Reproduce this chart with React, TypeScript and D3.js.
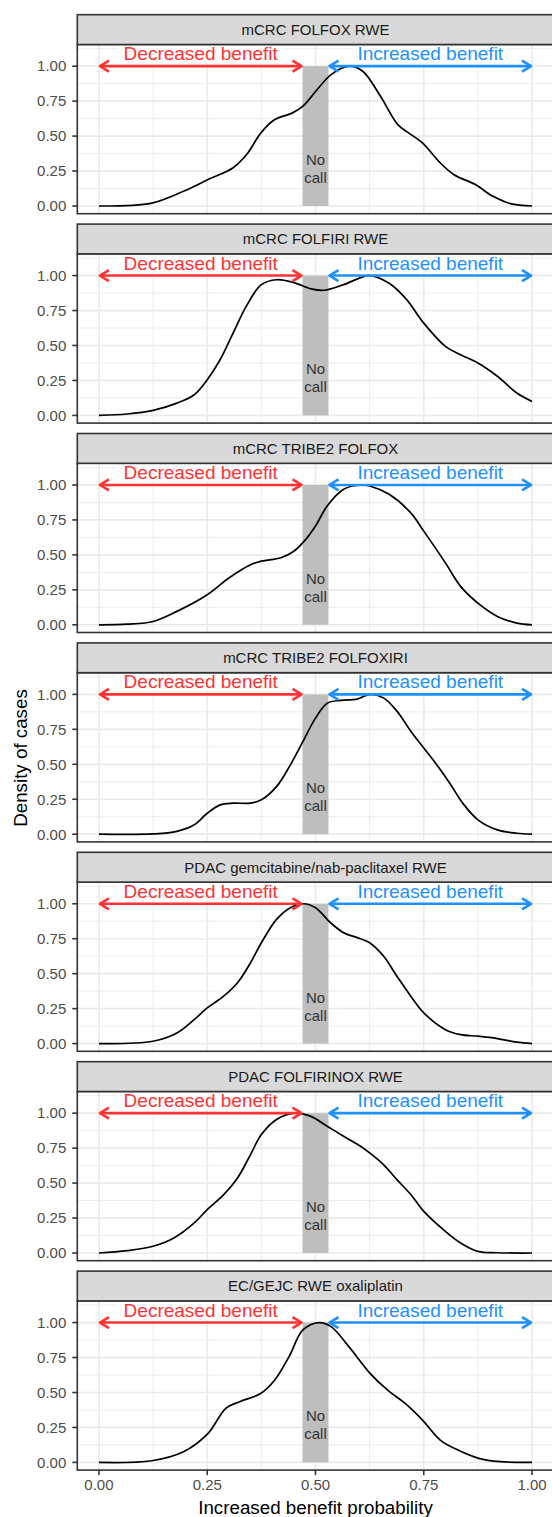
import React from "react";
import * as d3 from "d3";

const facetTitles = [
  "mCRC FOLFOX RWE",
  "mCRC FOLFIRI RWE",
  "mCRC TRIBE2 FOLFOX",
  "mCRC TRIBE2 FOLFOXIRI",
  "PDAC gemcitabine/nab-paclitaxel RWE",
  "PDAC FOLFIRINOX RWE",
  "EC/GEJC RWE oxaliplatin",
];

const folfoxRweX = [0, 0.122, 0.195, 0.252, 0.309, 0.341, 0.374, 0.406, 0.447, 0.471, 0.504, 0.536, 0.577, 0.609, 0.65, 0.69, 0.715, 0.747, 0.788, 0.82, 0.869, 0.91, 0.95, 1];
const folfoxRweY = [0, 0.021, 0.105, 0.189, 0.272, 0.368, 0.523, 0.618, 0.666, 0.714, 0.833, 0.94, 1.0, 0.964, 0.785, 0.582, 0.523, 0.451, 0.308, 0.224, 0.153, 0.069, 0.017, 0];

const folfiriRweX = [0, 0.065, 0.125, 0.18, 0.22, 0.25, 0.28, 0.31, 0.34, 0.375, 0.41, 0.45, 0.49, 0.52, 0.565, 0.625, 0.67, 0.71, 0.75, 0.8, 0.835, 0.875, 0.92, 0.965, 1];
const folfiriRweY = [0, 0.01, 0.036, 0.088, 0.148, 0.255, 0.4, 0.59, 0.78, 0.935, 0.97, 0.95, 0.905, 0.895, 0.935, 1.0, 0.945, 0.83, 0.66, 0.494, 0.434, 0.375, 0.28, 0.16, 0.1];

const tribeFolfoxX = [0, 0.065, 0.125, 0.18, 0.25, 0.3, 0.35, 0.375, 0.42, 0.45, 0.48, 0.5, 0.527, 0.565, 0.605, 0.625, 0.67, 0.72, 0.75, 0.8, 0.835, 0.875, 0.92, 0.965, 1];
const tribeFolfoxY = [0, 0.005, 0.024, 0.096, 0.215, 0.335, 0.43, 0.455, 0.48, 0.526, 0.62, 0.706, 0.85, 0.97, 1.0, 0.993, 0.933, 0.8, 0.67, 0.443, 0.275, 0.155, 0.06, 0.012, 0];

const tribeFolfoxiriX = [0, 0.125, 0.18, 0.22, 0.25, 0.28, 0.31, 0.35, 0.375, 0.41, 0.44, 0.473, 0.5, 0.527, 0.558, 0.596, 0.625, 0.657, 0.688, 0.72, 0.75, 0.78, 0.81, 0.84, 0.875, 0.92, 0.965, 1];
const tribeFolfoxiriY = [0, 0.002, 0.02, 0.067, 0.15, 0.21, 0.222, 0.222, 0.246, 0.34, 0.485, 0.675, 0.83, 0.937, 0.957, 0.966, 1.0, 0.975, 0.88, 0.737, 0.617, 0.497, 0.365, 0.222, 0.103, 0.031, 0.007, 0];

const pdacGemNabX = [0, 0.125, 0.18, 0.22, 0.25, 0.288, 0.32, 0.35, 0.375, 0.41, 0.442, 0.473, 0.5, 0.535, 0.565, 0.604, 0.625, 0.657, 0.688, 0.72, 0.75, 0.8, 0.835, 0.875, 0.92, 0.965, 1];
const pdacGemNabY = [0, 0.017, 0.076, 0.172, 0.255, 0.339, 0.435, 0.578, 0.721, 0.888, 0.972, 1.0, 0.971, 0.864, 0.793, 0.75, 0.721, 0.626, 0.482, 0.339, 0.22, 0.1, 0.064, 0.053, 0.036, 0.01, 0];

const pdacFolfirinoxX = [0, 0.065, 0.125, 0.173, 0.22, 0.25, 0.288, 0.32, 0.35, 0.375, 0.41, 0.45, 0.488, 0.527, 0.565, 0.604, 0.625, 0.657, 0.688, 0.72, 0.75, 0.8, 0.835, 0.875, 0.92, 1];
const pdacFolfirinoxY = [0, 0.017, 0.048, 0.107, 0.215, 0.31, 0.418, 0.537, 0.704, 0.847, 0.955, 1.0, 0.979, 0.907, 0.835, 0.764, 0.716, 0.632, 0.525, 0.418, 0.298, 0.155, 0.072, 0.012, 0.002, 0];

const ecGejcX = [0, 0.122, 0.195, 0.252, 0.293, 0.325, 0.374, 0.406, 0.439, 0.471, 0.508, 0.536, 0.577, 0.626, 0.666, 0.707, 0.747, 0.788, 0.829, 0.877, 0.926, 1];
const ecGejcY = [0, 0.012, 0.076, 0.208, 0.387, 0.434, 0.494, 0.589, 0.757, 0.947, 1.0, 0.971, 0.828, 0.637, 0.518, 0.422, 0.303, 0.16, 0.088, 0.029, 0.005, 0];

const seriesX = [folfoxRweX, folfiriRweX, tribeFolfoxX, tribeFolfoxiriX, pdacGemNabX, pdacFolfirinoxX, ecGejcX];
const seriesY = [folfoxRweY, folfiriRweY, tribeFolfoxY, tribeFolfoxiriY, pdacGemNabY, pdacFolfirinoxY, ecGejcY];

const xTicks = [0, 0.25, 0.5, 0.75, 1];
const xTickLabels = ["0.00", "0.25", "0.50", "0.75", "1.00"];
const yTicks = [0, 0.25, 0.5, 0.75, 1];
const yTickLabels = ["0.00", "0.25", "0.50", "0.75", "1.00"];
const xMinor = [0.125, 0.375, 0.625, 0.875];
const yMinor = [0.125, 0.375, 0.625, 0.875, 1.125];

const noCallRange = [0.47, 0.53];
const decreasedRange = [0, 0.47];
const increasedRange = [0.53, 1];
const arrowY = 1;
const noCallY = 0.25;

const W = 552;
const H = 1517;
const FONT = "'Liberation Sans', Arial, Helvetica, sans-serif";
const RED = "#FF3333";
const BLUE = "#1E90FF";

const panelLeft = 77.3;
const panelRight = 553.7;
const firstStripTop = 14.7;
const pitch = 209.4;
const stripH = 29.8;
const facetH = 199;

const x = d3.scaleLinear().domain([-0.05, 1.05]).range([panelLeft, panelRight]);

function Arrow({ x0, x1, y, color }: { x0: number; x1: number; y: number; color: string }) {
  const L = 10;
  const hw = 5.5;
  return (
    <g stroke={color} strokeWidth={2.6} fill="none" strokeLinecap="butt" strokeLinejoin="round">
      <line x1={x0 + 1} y1={y} x2={x1 - 1} y2={y} />
      <path d={`M${x0 + L},${y - hw}L${x0 + 1},${y}L${x0 + L},${y + hw}`} />
      <path d={`M${x1 - L},${y - hw}L${x1 - 1},${y}L${x1 - L},${y + hw}`} />
    </g>
  );
}

function Facet({ i }: { i: number }) {
  const stripTop = firstStripTop + i * pitch;
  const top = stripTop + stripH;
  const bottom = stripTop + facetH;
  const y = d3.scaleLinear().domain([-0.055, 1.155]).range([bottom, top]);
  const pts: [number, number][] = seriesX[i].map((v, k) => [v, seriesY[i][k]]);
  const line = d3
    .line<[number, number]>()
    .x((d) => x(d[0]))
    .y((d) => y(d[1]))
    .curve(d3.curveCatmullRom.alpha(0.5));
  const decMid = (decreasedRange[0] + decreasedRange[1]) / 2;
  const incMid = (increasedRange[0] + increasedRange[1]) / 2;
  const decW = 154;
  const incW = 146;
  const midX = (panelLeft + panelRight) / 2;
  return (
    <g>
      <rect x={panelLeft} y={top} width={panelRight - panelLeft} height={bottom - top} fill="#fff" />
      {xMinor.map((v) => (
        <line key={"xm" + v} x1={x(v)} x2={x(v)} y1={top} y2={bottom} stroke="#EBEBEB" strokeWidth={0.9} />
      ))}
      {yMinor.map((v) => (
        <line key={"ym" + v} x1={panelLeft} x2={panelRight} y1={y(v)} y2={y(v)} stroke="#EBEBEB" strokeWidth={0.9} />
      ))}
      {xTicks.map((v) => (
        <line key={"xM" + v} x1={x(v)} x2={x(v)} y1={top} y2={bottom} stroke="#EBEBEB" strokeWidth={1.7} />
      ))}
      {yTicks.map((v) => (
        <line key={"yM" + v} x1={panelLeft} x2={panelRight} y1={y(v)} y2={y(v)} stroke="#EBEBEB" strokeWidth={1.7} />
      ))}
      <rect x={x(decMid) - decW / 2 - 6} y={top + 1} width={decW + 12} height={y(arrowY) - 3 - top - 1} fill="#fff" />
      <rect x={x(incMid) - incW / 2 - 6} y={top + 1} width={incW + 12} height={y(arrowY) - 3 - top - 1} fill="#fff" />
      <rect
        x={x(noCallRange[0])}
        y={y(1)}
        width={x(noCallRange[1]) - x(noCallRange[0])}
        height={y(0) - y(1)}
        fill="#BEBEBE"
      />
      <text x={x(0.5)} y={y(noCallY) - 6} textAnchor="middle" fontFamily={FONT} fontSize={15} fill="#333333">
        No
      </text>
      <text x={x(0.5)} y={y(noCallY) + 12} textAnchor="middle" fontFamily={FONT} fontSize={15} fill="#333333">
        call
      </text>
      <path d={line(pts) || ""} fill="none" stroke="#000" strokeWidth={1.7} strokeLinejoin="round" />
      <Arrow x0={x(decreasedRange[0])} x1={x(decreasedRange[1])} y={y(arrowY)} color={RED} />
      <Arrow x0={x(increasedRange[0])} x1={x(increasedRange[1])} y={y(arrowY)} color={BLUE} />
      <text x={x(decMid)} y={y(arrowY) - 6} textAnchor="middle" fontFamily={FONT} fontSize={19} fill={RED}>
        Decreased benefit
      </text>
      <text x={x(incMid)} y={y(arrowY) - 6} textAnchor="middle" fontFamily={FONT} fontSize={19} fill={BLUE}>
        Increased benefit
      </text>
      <rect x={panelLeft} y={top} width={panelRight - panelLeft} height={bottom - top} fill="none" stroke="#333333" strokeWidth={1.6} />
      <rect x={panelLeft} y={stripTop} width={panelRight - panelLeft} height={stripH} fill="#D9D9D9" stroke="#333333" strokeWidth={1.6} />
      <text x={midX} y={stripTop + stripH / 2 + 5.4} textAnchor="middle" fontFamily={FONT} fontSize={15} fill="#1A1A1A">
        {facetTitles[i]}
      </text>
      {yTicks.map((v, k) => (
        <g key={"yt" + v}>
          <line x1={panelLeft - 5} x2={panelLeft} y1={y(v)} y2={y(v)} stroke="#333333" strokeWidth={1.6} />
          <text x={panelLeft - 11} y={y(v) + 5.3} textAnchor="end" fontFamily={FONT} fontSize={15} fill="#4D4D4D">
            {yTickLabels[k]}
          </text>
        </g>
      ))}
    </g>
  );
}

export default function App() {
  const lastBottom = firstStripTop + 6 * pitch + facetH;
  return (
    <svg
      width={W}
      height={H}
      viewBox={`0 0 ${W} ${H}`}
      style={{ position: "absolute", left: 0, top: 0, background: "#fff" }}
    >
      <rect x={0} y={0} width={W} height={H} fill="#fff" />
      {facetTitles.map((_, i) => (
        <Facet key={i} i={i} />
      ))}
      {xTicks.map((v, k) => (
        <g key={"xt" + v}>
          <line x1={x(v)} x2={x(v)} y1={lastBottom} y2={lastBottom + 5} stroke="#333333" strokeWidth={1.6} />
          <text x={x(v)} y={lastBottom + 20} textAnchor="middle" fontFamily={FONT} fontSize={15} fill="#4D4D4D">
            {xTickLabels[k]}
          </text>
        </g>
      ))}
      <text x={(panelLeft + panelRight) / 2} y={1514} textAnchor="middle" fontFamily={FONT} fontSize={18.75} fill="#000">
        Increased benefit probability
      </text>
      <text
        transform={`translate(${27}, ${758}) rotate(-90)`}
        textAnchor="middle"
        fontFamily={FONT}
        fontSize={18.75}
        fill="#000"
      >
        Density of cases
      </text>
    </svg>
  );
}
